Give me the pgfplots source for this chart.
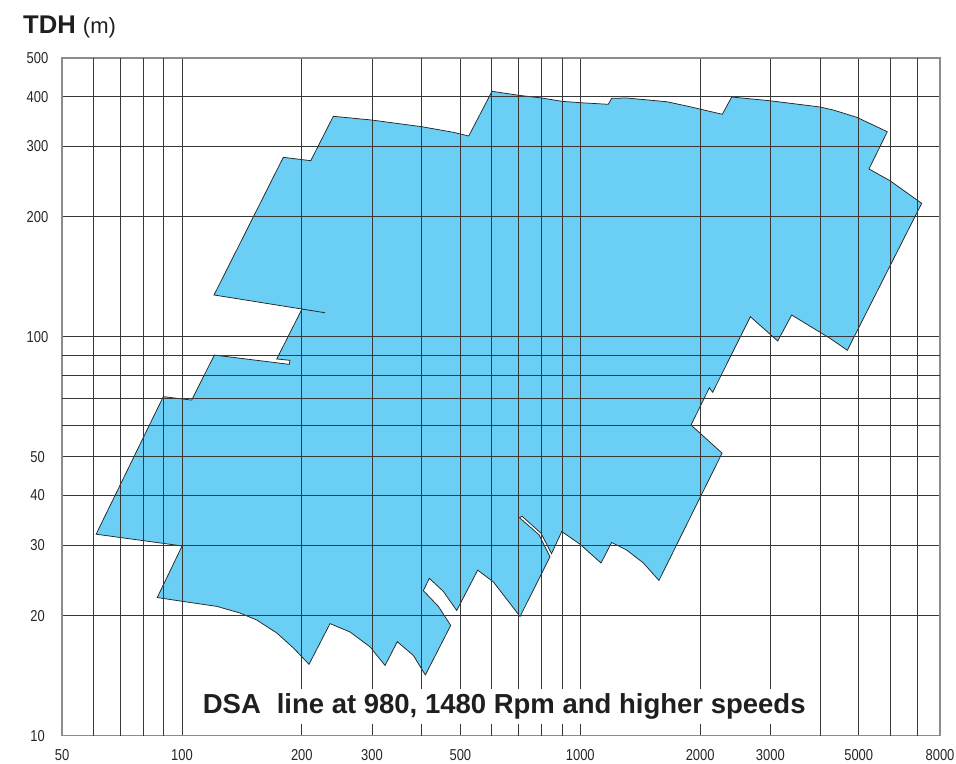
\documentclass[border=0pt]{standalone}
\usepackage{fontspec}
\setmainfont{Liberation Sans}
\newfontfamily\mytickfont[FakeStretch=0.82]{Liberation Sans}
\usepackage{pgfplots}
\pgfplotsset{compat=1.18}
\definecolor{skyc}{RGB}{107,206,244}
\begin{document}
\begin{tikzpicture}
\begin{axis}[
  xmode=log, ymode=log,
  scale only axis, width=878bp, height=677.7bp,
  xmin=50, xmax=8000, ymin=10, ymax=500,
  xtick={50,100,200,300,500,1000,2000,3000,5000,8000},
  xticklabels={50,100,200,300,500,1000,2000,3000,5000,8000},
  extra x ticks={60,70,80,90,400,600,700,800,900,4000,6000,7000},
  extra x tick labels={},
  ytick={10,20,30,40,50,100,200,300,400,500},
  yticklabels={10,20,30,40,50,100,200,300,400,500},
  extra y ticks={60,70,80,90},
  extra y tick labels={},
  grid=major,
  extra tick style={grid=major, major tick length=0pt},
  major tick length=0pt,
  minor tick length=0pt,
  grid style={black!78, line width=0.8bp},
  axis line style={black!45, line width=1.3bp},
  axis on top,
  /pgf/number format/assume math mode=true,
  tick label style={font=\mytickfont\fontsize{15.8bp}{18bp}\selectfont, text=black!85},
  xticklabel style={anchor=center, yshift=-19.3bp},
  yticklabel style={anchor=center, xshift=-24.5bp},
]
\addplot[fill=skyc, draw=black!85, line width=0.75bp, mark=none] coordinates {
(60.9,32.0) (89.8,70.8) (105.8,69.4) (120.6,90.0) (186.0,85.3) (186.8,87.3)
(173.0,88.0) (200.2,117.4) (228.7,114.9) (120.4,127.3) (179.7,281.8)
(210.6,276.4) (239.9,357.1) (299.6,349.5) (400.0,336.3) (480.1,325.6)
(524.8,318.7) (600.4,412.5) (700.7,403.1) (800.2,396.9) (898.5,389.4)
(1000,386.3) (1175.8,382.7) (1199,396.2) (1308,396.9) (1648,388.5)
(1850,379.0) (2273,361.3) (2400,399.2) (2995,390.7) (3998,376.8)
(4318,370.3) (4943,355.1) (5899,326.7) (5306,263.5) (5992,246.2)
(7197,216.1) (4681,92.5) (4237,99.1) (3394,113.4) (3131,97.6)
(2673,112.3) (2150,72.6) (2109,74.5) (1897,60.1) (2270,51.1)
(1576,24.5) (1440,27.1) (1308,29.2) (1199,30.5) (1127,27.1)
(998.5,30.2) (898.5,32.5) (847.0,28.6) (797.0,32.2) (714.1,35.5)
(704.0,35.2) (787.9,31.9) (839.6,28.1) (706.1,19.9) (605.0,24.3)
(552.8,26.0) (489.5,20.6) (453.1,23.0) (417.9,24.8) (403.7,23.1)
(440.2,21.1) (472.9,18.9) (408.4,14.2) (381.0,15.9) (347.3,17.2)
(323.5,15.0) (296.7,16.7) (264.2,18.2) (235.4,19.1) (208.5,15.1)
(190.4,16.6) (173.0,18.1) (154.1,19.5) (139.9,20.3) (122.3,21.1)
(100.8,21.7) (86.7,22.2) (100.1,29.9)
} -- cycle;
\coordinate (bl) at (rel axis cs:0,0);
\coordinate (tl) at (rel axis cs:0,1);
\coordinate (lab) at (axis cs:644.3,11.381);
\end{axis}
\node[anchor=base, fill=white, inner xsep=8bp, inner ysep=4.7bp, text=black!88,
      font=\fontsize{27.5bp}{30bp}\selectfont\bfseries]
  at (lab) {DSA\hspace{0.3em} line at 980, 1480 Rpm and higher speeds};
\node[anchor=base west, inner sep=0pt, xshift=-39bp, yshift=24.7bp, text=black!88]
  at (tl) {\fontsize{25.6bp}{28bp}\selectfont\bfseries TDH\ \fontsize{22bp}{26bp}\mdseries\selectfont (m)};
\pgfresetboundingbox
\path[use as bounding box] (bl) ++(-62bp,-28.3bp) rectangle ++(956bp,764bp);
\end{tikzpicture}
\end{document}
